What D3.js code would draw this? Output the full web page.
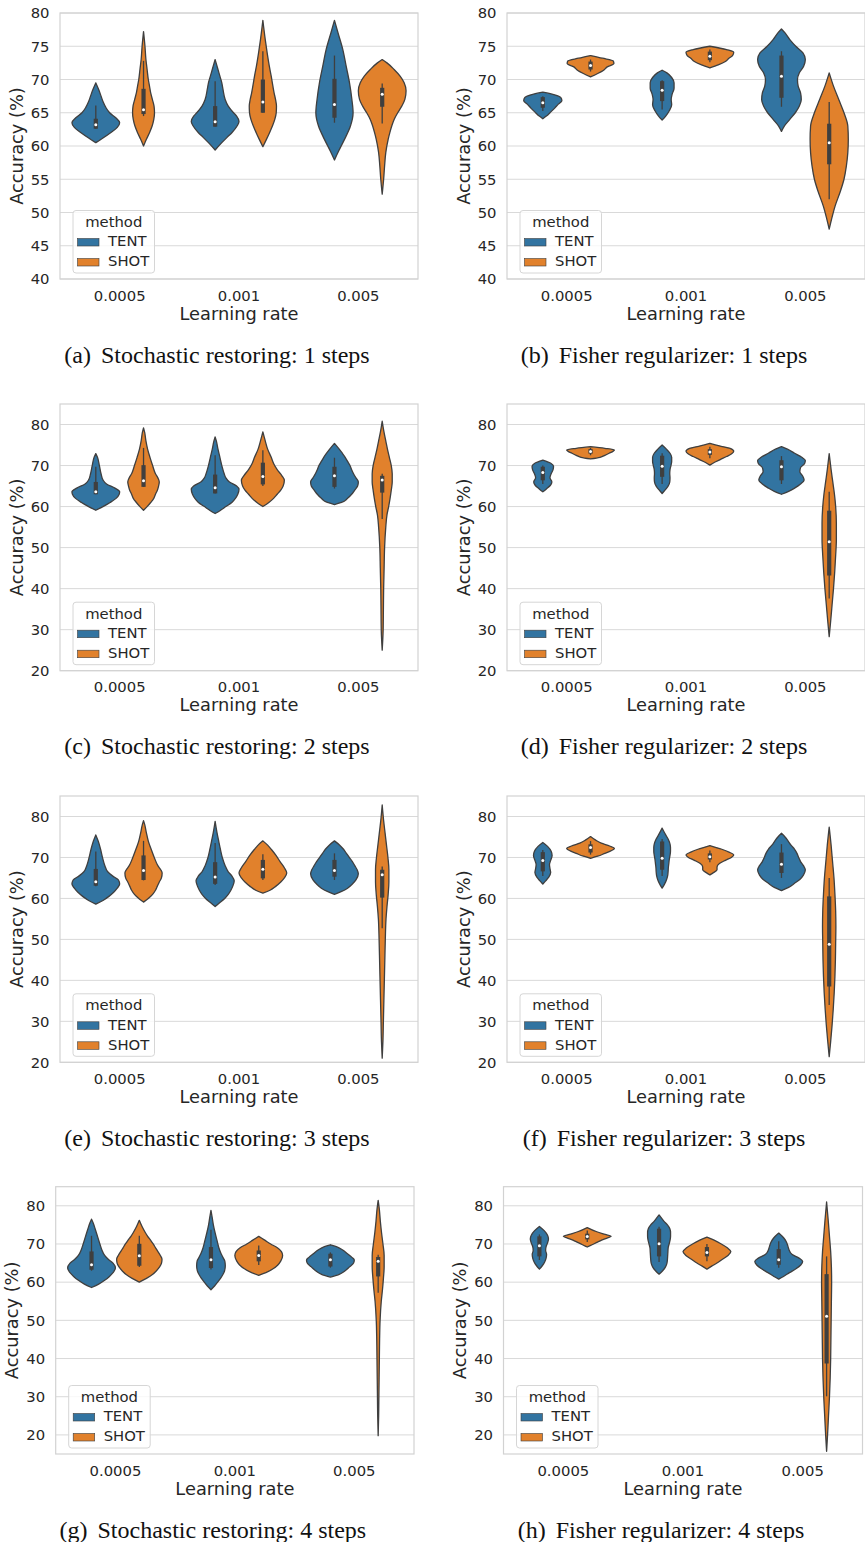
<!DOCTYPE html>
<html lang="en">
<head>
<meta charset="UTF-8">
<title>Violin plots: TENT vs SHOT</title>
<style>
    body { margin: 0; background: #fff; }
    svg text { font-family: "DejaVu Sans", sans-serif; fill: #262626; }
    svg text.caption { font-family: "Liberation Serif", "Times New Roman", serif; fill: #111; }
</style>
</head>
<body>
<script src="https://d3js.org/d3.v7.min.js"></script>
<script>
    // categories
    var lrs = ["0.0005", "0.001", "0.005"];
    var methods = ["TENT", "SHOT"];
    var colors = ["#3274a1", "#e1812c"];

    var captions = [
        "Stochastic restoring: 1 steps", "Fisher regularizer: 1 steps",
        "Stochastic restoring: 2 steps", "Fisher regularizer: 2 steps",
        "Stochastic restoring: 3 steps", "Fisher regularizer: 3 steps",
        "Stochastic restoring: 4 steps", "Fisher regularizer: 4 steps"
    ];
    var letters = ["a", "b", "c", "d", "e", "f", "g", "h"];

    var yDomains = [[40, 80], [40, 80], [20, 85], [20, 85], [20, 85], [20, 85], [15, 85], [15, 85]];
    var ticksRow1 = [40, 45, 50, 55, 60, 65, 70, 75, 80];
    var ticksRest = [20, 30, 40, 50, 60, 70, 80];

    // violin outlines: [accuracy, relative half width]
    // order in each list: TENT/0.0005, SHOT/0.0005, TENT/0.001, SHOT/0.001, TENT/0.005, SHOT/0.005
    var shapesA = [
        [[60.5,0],[61.2,0.3],[62,0.62],[62.8,0.9],[63.5,1.0],[64.2,0.85],[65,0.58],[65.8,0.42],[66.6,0.31],[67.5,0.22],[68.5,0.12],[69.5,0]],
        [[60,0],[61,0.12],[62,0.25],[63,0.36],[64,0.43],[65,0.46],[66,0.44],[67,0.37],[68,0.3],[69,0.25],[70,0.2],[71.5,0.15],[73,0.1],[75,0.06],[77.2,0]],
        [[59.4,0],[60.5,0.28],[61.3,0.5],[62,0.7],[63,0.92],[63.7,1.0],[64.5,0.9],[65,0.77],[66,0.55],[67,0.42],[68.5,0.33],[69.5,0.28],[70.5,0.2],[71.5,0.12],[73,0]],
        [[59.9,0],[61,0.15],[62,0.28],[63,0.4],[64,0.5],[65,0.56],[66,0.57],[67,0.53],[68,0.47],[69,0.42],[70.5,0.35],[72,0.27],[74,0.18],[76,0.1],[78.9,0]],
        [[57.9,0],[59.2,0.17],[61,0.42],[63,0.67],[65,0.78],[67,0.73],[69.5,0.63],[72,0.49],[74.5,0.35],[77,0.15],[78.9,0]],
        [[52.75,0],[55,0.06],[57,0.1],[59,0.15],[61,0.25],[62,0.32],[63,0.4],[64,0.5],[65,0.65],[66,0.82],[67,0.95],[68.3,1.0],[69.5,0.92],[70.5,0.75],[71.5,0.5],[72.5,0.2],[73,0]]
    ];
    var shapesB = [
        [[64.1,0],[64.5,0.15],[65,0.3],[65.7,0.5],[66.3,0.65],[66.8,0.8],[67.3,0.75],[67.7,0.5],[68.1,0]],
        [[70.4,0],[70.9,0.3],[71.4,0.55],[71.9,0.7],[72.4,0.98],[72.8,0.95],[73.2,0.5],[73.6,0]],
        [[63.9,0],[64.5,0.15],[65.3,0.3],[66.2,0.4],[67,0.38],[67.8,0.42],[68.7,0.5],[69.5,0.5],[70.3,0.4],[71,0.2],[71.4,0]],
        [[71.75,0],[72.2,0.35],[72.7,0.65],[73.2,0.8],[73.6,0.95],[74.1,1.0],[74.5,0.7],[75,0]],
        [[62.2,0],[63,0.12],[64,0.35],[65,0.58],[66,0.75],[67,0.83],[68,0.8],[69,0.7],[70,0.67],[71,0.75],[72,0.93],[73,1.0],[74,0.9],[75,0.6],[76,0.35],[77,0.15],[77.6,0]],
        [[47.5,0],[49,0.1],[51,0.25],[53,0.45],[55,0.62],[57,0.72],[59,0.78],[61,0.8],[63,0.78],[65,0.62],[67,0.4],[69,0.18],[71,0]]
    ];
    var shapesC = [
        [[59.1,0],[60,0.3],[61,0.6],[62,0.85],[63,0.98],[63.6,1.0],[64.5,0.8],[65.5,0.45],[66.5,0.3],[68,0.22],[70,0.15],[72,0.07],[72.9,0]],
        [[59.1,0],[60,0.15],[61,0.3],[62,0.43],[63,0.5],[64,0.58],[65,0.63],[66,0.66],[67,0.6],[68,0.5],[70,0.38],[72,0.27],[74,0.17],[76,0.1],[78,0.05],[79.2,0]],
        [[58.3,0],[59,0.2],[60,0.45],[61,0.7],[62,0.85],[63,0.95],[64.2,1.0],[65,0.9],[66,0.6],[67,0.45],[68,0.38],[70,0.28],[72,0.2],[74,0.12],[76,0.05],[77,0]],
        [[60,0],[61,0.25],[62,0.45],[63,0.6],[64,0.75],[65,0.85],[66.4,0.9],[67.5,0.8],[69,0.6],[70.5,0.45],[72,0.35],[74,0.2],[76,0.1],[78.2,0]],
        [[60.5,0],[61,0.3],[62,0.55],[63,0.72],[64,0.85],[65,0.97],[66,1.0],[67,0.9],[68,0.8],[69,0.72],[70,0.65],[71,0.55],[72,0.45],[73,0.33],[74,0.2],[75.4,0]],
        [[25,0],[30,0.04],[35,0.05],[40,0.06],[45,0.08],[50,0.1],[55,0.15],[58,0.2],[60,0.27],[62,0.33],[64,0.38],[66,0.42],[68,0.42],[70,0.38],[72,0.3],[74,0.22],[76,0.15],[78,0.08],[80.8,0]]
    ];
    var shapesD = [
        [[63.6,0],[64.3,0.15],[65.2,0.32],[66,0.38],[67,0.3],[68,0.35],[69,0.43],[69.8,0.45],[70.5,0.35],[71.3,0]],
        [[71.6,0],[72,0.4],[72.5,0.6],[73,0.78],[73.5,0.95],[73.8,1.0],[74.2,0.6],[74.6,0]],
        [[63.2,0],[64,0.12],[65,0.25],[66,0.32],[67,0.33],[68,0.32],[69,0.33],[70,0.37],[71,0.4],[72,0.4],[73,0.33],[74,0.18],[75,0]],
        [[70.1,0],[70.8,0.2],[71.5,0.45],[72.2,0.7],[72.8,0.9],[73.5,1.0],[74.2,0.85],[74.8,0.4],[75.4,0]],
        [[63,0],[63.7,0.3],[64.5,0.55],[65.5,0.8],[66.5,0.95],[67.5,0.88],[68.5,0.77],[69.5,0.8],[70.5,0.97],[71.2,1.0],[72,0.85],[73,0.55],[74,0.25],[74.6,0]],
        [[28.3,0],[32,0.06],[36,0.12],[40,0.18],[44,0.23],[48,0.27],[52,0.3],[56,0.3],[60,0.27],[63,0.22],[66,0.15],[69,0.08],[72.9,0]]
    ];
    var shapesE = [
        [[58.6,0],[59.5,0.3],[60.5,0.55],[61.5,0.75],[62.5,0.9],[63.5,1.0],[64.5,0.95],[65.5,0.7],[66.5,0.5],[68,0.38],[70,0.28],[72,0.2],[74,0.1],[75.5,0]],
        [[59.1,0],[60,0.2],[61,0.38],[62,0.5],[63,0.58],[64,0.66],[65,0.75],[66.2,0.78],[67,0.72],[68,0.6],[70,0.45],[72,0.32],[74,0.2],[76,0.12],[78,0.05],[79,0]],
        [[58,0],[59,0.2],[60,0.4],[61,0.55],[62,0.66],[63,0.74],[64.3,0.8],[65.5,0.7],[66.5,0.55],[68,0.42],[70,0.3],[72,0.22],[74,0.15],[76,0.08],[78.8,0]],
        [[61.3,0],[62,0.3],[63,0.55],[64,0.75],[65,0.9],[66.2,1.0],[67.5,0.9],[69,0.72],[70.5,0.55],[72,0.35],[73,0.2],[74.05,0]],
        [[61,0],[61.7,0.3],[62.5,0.55],[63.5,0.75],[64.5,0.9],[66,1.0],[67,0.95],[68,0.85],[69,0.75],[70,0.62],[71,0.5],[72,0.38],[73,0.22],[74.05,0]],
        [[21,0],[25,0.03],[30,0.05],[35,0.07],[40,0.09],[45,0.11],[50,0.13],[55,0.16],[58,0.2],[61,0.25],[64,0.28],[67,0.28],[70,0.24],[73,0.18],[76,0.12],[79,0.06],[82.8,0]]
    ];
    var shapesF = [
        [[63.5,0],[64.3,0.12],[65.2,0.25],[66.3,0.33],[67.3,0.3],[68.3,0.28],[69.3,0.33],[70.5,0.39],[71.5,0.35],[72.7,0.2],[73.65,0]],
        [[69.8,0],[70.3,0.3],[71,0.6],[71.6,0.85],[72.2,1.0],[72.8,0.8],[73.5,0.45],[74.3,0.2],[75.1,0]],
        [[62.5,0],[63.5,0.1],[64.5,0.18],[65.5,0.23],[66.5,0.25],[67.5,0.26],[68.5,0.28],[69.5,0.3],[70.5,0.33],[71.5,0.35],[72.5,0.35],[73.5,0.32],[74.5,0.25],[75.5,0.15],[77.15,0]],
        [[65.75,0],[66.3,0.15],[67,0.3],[67.7,0.3],[68.5,0.4],[69.3,0.65],[70,0.9],[70.6,1.0],[71.3,0.8],[72,0.5],[72.9,0]],
        [[61.9,0],[62.7,0.3],[63.7,0.55],[64.7,0.78],[65.7,0.92],[67,1.0],[68,0.92],[69,0.8],[70,0.72],[71,0.65],[72,0.55],[73,0.4],[74,0.28],[75,0.15],[75.9,0]],
        [[21.4,0],[25,0.06],[29,0.12],[33,0.17],[37,0.21],[41,0.24],[45,0.26],[49,0.27],[53,0.28],[57,0.27],[61,0.24],[65,0.2],[69,0.14],[73,0.08],[77.4,0]]
    ];
    var shapesG = [
        [[58.6,0],[59.5,0.3],[60.5,0.55],[61.5,0.75],[62.5,0.9],[63.7,1.0],[65,0.9],[66,0.7],[67,0.55],[68.5,0.43],[70,0.35],[72,0.25],[74,0.15],[75.5,0.07],[76.5,0]],
        [[60,0],[61,0.3],[62,0.55],[63,0.72],[64,0.85],[65,0.93],[66,0.95],[67,0.88],[68,0.78],[69,0.68],[70,0.58],[71,0.47],[72,0.35],[73,0.25],[74.5,0.12],[76.2,0]],
        [[58,0],[59,0.15],[60,0.28],[61,0.4],[62,0.5],[63,0.57],[64.3,0.6],[65.5,0.58],[66.5,0.5],[67.5,0.42],[69,0.33],[71,0.25],[73,0.17],[75,0.1],[77,0.05],[78.8,0]],
        [[61.8,0],[62.5,0.3],[63.5,0.6],[64.5,0.8],[65.5,0.92],[67,1.0],[68,0.95],[69,0.78],[70,0.5],[71,0.25],[72,0]],
        [[61.35,0],[62,0.35],[63,0.62],[64,0.8],[65,0.97],[65.8,1.0],[66.5,0.9],[67.5,0.7],[68.5,0.5],[69.3,0.25],[69.8,0]],
        [[19.8,0],[25,0.02],[30,0.03],[35,0.04],[40,0.05],[45,0.06],[50,0.08],[55,0.13],[58,0.18],[61,0.22],[64,0.25],[67,0.25],[70,0.2],[73,0.14],[76,0.09],[79,0.05],[81.4,0]]
    ];
    var shapesH = [
        [[63.4,0],[64.3,0.12],[65.3,0.22],[66.3,0.28],[67.3,0.3],[68.3,0.26],[69.3,0.28],[70.3,0.34],[71.3,0.38],[72.3,0.34],[73.5,0.2],[74.6,0]],
        [[69.2,0],[69.8,0.2],[70.4,0.4],[71,0.6],[71.6,0.85],[72,1.0],[72.5,0.75],[73.2,0.4],[74.3,0]],
        [[62.1,0],[63,0.15],[64,0.27],[65,0.33],[66,0.35],[67,0.36],[68,0.37],[69,0.38],[70,0.42],[71,0.46],[72,0.48],[73,0.48],[74,0.45],[75,0.35],[76,0.2],[77.6,0]],
        [[63.4,0],[64.2,0.2],[65,0.42],[66,0.65],[67,0.88],[68,1.0],[69,0.85],[70,0.6],[71,0.3],[71.8,0]],
        [[60.8,0],[61.5,0.2],[62.5,0.45],[63.5,0.72],[64.5,0.92],[65.4,1.0],[66.3,0.85],[67.3,0.55],[68.5,0.43],[69.5,0.38],[70.5,0.32],[71.5,0.22],[72.85,0]],
        [[15.7,0],[20,0.04],[25,0.08],[30,0.12],[35,0.15],[40,0.17],[45,0.18],[50,0.19],[55,0.2],[60,0.21],[64,0.2],[68,0.17],[72,0.12],[76,0.07],[81,0]]
    ];

    // inner box: [whisker low, q1, median, q3, whisker high]
    var boxesA = [[62.6,62.6,63.2,64.1,66.1],[64.5,64.8,65.45,68.6,72.8],[62.9,62.9,63.65,66,69.75],[65,65,66.6,70,74.25],[63.5,64.25,66.25,70.1,73.6],[63.4,65.9,67.8,68.75,69.4]];
    var boxesB = [[65.25,65.75,66.5,67.35,67.5],[71.2,71.5,72.1,72.7,73],[65.5,66.75,68.4,69.75,69.9],[72.6,72.9,73.5,74.2,74.5],[65.9,67.25,70.5,73.6,74.25],[52,57.25,60.5,63.35,66.6]];
    var boxesC = [[63,63,63.6,66,69.7],[64.8,64.8,66.3,70.1,74.3],[63.2,63.2,64.6,67.8,72.5],[65,65.4,67.3,70.7,73.75],[64.4,64.8,67.5,69.7,71.9],[57,63.4,66.5,67.5,68]];
    var boxesD = [[65.5,66.4,68.3,69.7,70],[72.5,72.9,73.4,74,74.3],[65.5,67.25,69.85,72.4,73],[71.8,72.6,73.3,74,74.6],[65.5,66.4,69.7,71.3,72.3],[37.6,43.2,51.4,59,63.6]];
    var boxesE = [[63,63.1,64.1,67.2,71.45],[64.4,64.5,66.8,70.5,74.05],[63.3,63.55,65.2,68.85,73.5],[64.5,64.9,67.1,69.4,70.8],[64.5,65.3,66.8,69.4,71],[52.7,60.2,65.75,67,67.8]];
    var boxesF = [[65.5,66.6,69.25,71.3,71.8],[70.7,71.2,72.4,73.2,74],[65.5,67,69.8,73.9,74.5],[68.8,69.5,70.2,71,71.7],[65,66.2,68.35,71.2,73.25],[34,38.5,48.8,60.5,65]];
    var boxesG = [[63,63.25,64.55,68.05,72.15],[64,64.3,66.9,70.05,72.15],[63.3,63.7,65.9,69.2,73.7],[64.5,65.45,67,68.3,69.6],[63.8,64.1,65.9,67.45,67.8],[57.2,61.5,65.45,66.6,67.2]];
    var boxesH = [[65.8,66.75,69.55,72,72.5],[70.5,71.2,71.95,72.7,73.5],[65.3,66.75,70.05,74,74.5],[65.5,66.75,67.8,69.2,70],[63.8,64.55,65.9,68.65,70.7],[30.1,38.7,51.05,62.1,66.75]];

    var allShapes = [shapesA, shapesB, shapesC, shapesD, shapesE, shapesF, shapesG, shapesH];
    var allBoxes = [boxesA, boxesB, boxesC, boxesD, boxesE, boxesF, boxesG, boxesH];

    // panel frames in page pixels
    var frames = [
        { x0: 60, x1: 418, y0: 13, y1: 279 },
        { x0: 507, x1: 865, y0: 13, y1: 279 },
        { x0: 60, x1: 418, y0: 404, y1: 670.7 },
        { x0: 507, x1: 865, y0: 404, y1: 670.7 },
        { x0: 60, x1: 418, y0: 796, y1: 1062.3 },
        { x0: 507, x1: 865, y0: 796, y1: 1062.3 },
        { x0: 55.7, x1: 414, y0: 1186.7, y1: 1454 },
        { x0: 503.5, x1: 862.5, y0: 1186.7, y1: 1454 }
    ];

    var gray = "#3f3f3f";
    var svg = d3.select("body").append("svg")
        .attr("width", 865)
        .attr("height", 1542);
    svg.append("rect").attr("width", 865).attr("height", 1542).attr("fill", "#fff");

    function drawPanel(p) {
        var f = frames[p];
        var g = svg.append("g");

        var x = d3.scaleBand().domain(lrs).range([f.x0, f.x1]).padding(0);
        var hue = d3.scaleBand().domain(methods).range([0, x.bandwidth()])
            .paddingInner(0).paddingOuter(0.25);
        var y = d3.scaleLinear().domain(yDomains[p]).range([f.y1, f.y0]);
        var ticks = p < 2 ? ticksRow1 : ticksRest;
        var halfW = hue.bandwidth() / 2;

        // grid
        g.selectAll(".grid").data(ticks).enter().append("line")
            .attr("x1", f.x0).attr("x2", f.x1)
            .attr("y1", d => y(d)).attr("y2", d => y(d))
            .attr("stroke", "#d9d9d9").attr("stroke-width", 1);

        // frame
        g.append("rect")
            .attr("x", f.x0).attr("y", f.y0)
            .attr("width", f.x1 - f.x0).attr("height", f.y1 - f.y0)
            .attr("fill", "none").attr("stroke", "#d2d2d2").attr("stroke-width", 1.2);

        // y tick labels
        g.selectAll(".ytick").data(ticks).enter().append("text")
            .attr("x", f.x0 - 10.5).attr("y", d => y(d)).attr("dy", "0.36em")
            .attr("text-anchor", "end").style("font-size", "14.8px")
            .text(d => d);

        // x tick labels
        g.selectAll(".xtick").data(lrs).enter().append("text")
            .attr("x", d => x(d) + x.bandwidth() / 2).attr("y", f.y1 + 21.5)
            .attr("text-anchor", "middle").style("font-size", "14.8px")
            .text(d => d);

        g.append("text")
            .attr("x", (f.x0 + f.x1) / 2).attr("y", f.y1 + 40.5)
            .attr("text-anchor", "middle").style("font-size", "17.8px")
            .text("Learning rate");

        g.append("text")
            .attr("transform", "translate(" + (f.x0 - 37.5) + "," + ((f.y0 + f.y1) / 2) + ") rotate(-90)")
            .attr("text-anchor", "middle").style("font-size", "17.8px")
            .text("Accuracy (%)");

        // violins
        var shapes = allShapes[p], boxes = allBoxes[p];
        shapes.forEach(function (shape, i) {
            var lr = lrs[Math.floor(i / 2)], m = methods[i % 2];
            var cx = x(lr) + hue(m) + halfW;
            var area = d3.area()
                .y(d => y(d[0]))
                .x0(d => cx - d[1] * halfW)
                .x1(d => cx + d[1] * halfW)
                .curve(d3.curveMonotoneY);
            g.append("path")
                .attr("d", area(shape))
                .attr("fill", colors[i % 2])
                .attr("stroke", gray).attr("stroke-width", 1.3)
                .attr("stroke-linejoin", "round");

            var b = boxes[i];
            g.append("line")
                .attr("x1", cx).attr("x2", cx)
                .attr("y1", y(b[0])).attr("y2", y(b[4]))
                .attr("stroke", gray).attr("stroke-width", 1.3);
            g.append("line")
                .attr("x1", cx).attr("x2", cx)
                .attr("y1", y(b[1])).attr("y2", y(b[3]))
                .attr("stroke", gray).attr("stroke-width", 4.2);
            g.append("circle")
                .attr("cx", cx).attr("cy", y(b[2])).attr("r", 1.5)
                .attr("fill", "#fff");
        });

        // legend
        var lx = f.x0 + 13, ly = f.y1 - 68.5;
        var leg = g.append("g").attr("transform", "translate(" + lx + "," + ly + ")");
        leg.append("rect")
            .attr("width", 81.5).attr("height", 62.5).attr("rx", 3)
            .attr("fill", "#fff").attr("fill-opacity", 0.8)
            .attr("stroke", "#d6d6d6").attr("stroke-width", 1);
        leg.append("text")
            .attr("x", 40.75).attr("y", 16.5)
            .attr("text-anchor", "middle").style("font-size", "14.8px")
            .text("method");
        methods.forEach(function (m, k) {
            leg.append("rect")
                .attr("x", 4.5).attr("y", 28 + k * 20)
                .attr("width", 21.5).attr("height", 7.5)
                .attr("fill", colors[k]).attr("stroke", gray).attr("stroke-width", 0.6);
            leg.append("text")
                .attr("x", 35).attr("y", 35.8 + k * 20)
                .style("font-size", "14.8px")
                .text(m);
        });

        // sub-caption
        var cap = svg.append("text").attr("class", "caption")
            .attr("x", (f.x0 + f.x1) / 2 - 22).attr("y", f.y1 + 83.7)
            .attr("text-anchor", "middle").style("font-size", "24px");
        cap.append("tspan").text("(" + letters[p] + ")");
        cap.append("tspan").attr("dx", 10).text(captions[p]);
    }

    for (var p = 0; p < 8; p++) drawPanel(p);
</script>
</body>
</html>
